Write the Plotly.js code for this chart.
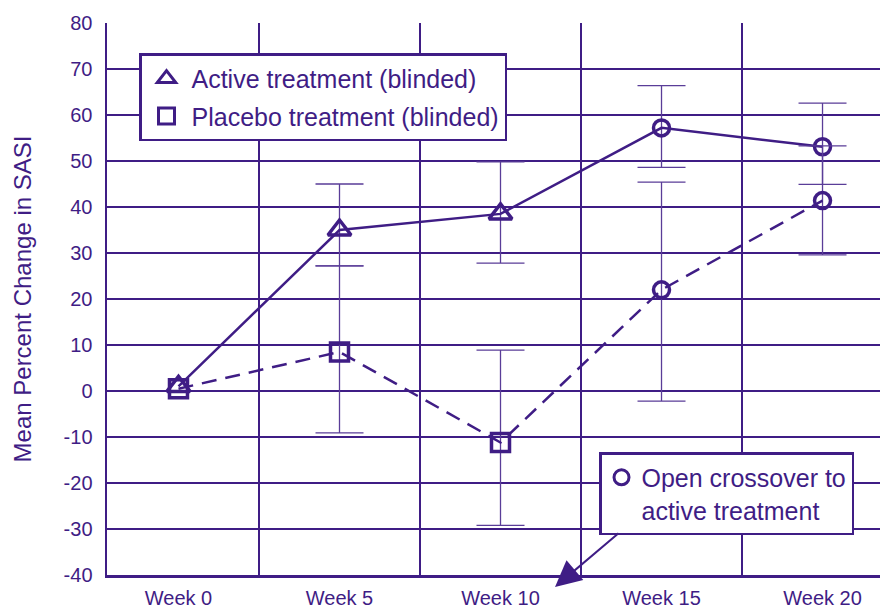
<!DOCTYPE html>
<html>
<head>
<meta charset="utf-8">
<script src="https://cdn.plot.ly/plotly-3.0.1.min.js"></script>
<style>html,body{margin:0;padding:0;overflow:hidden;background:#fff;}</style>
</head>
<body>
<div id="chart" style="width:880px;height:608px;"></div>
<script>
// ---- data ----
const weeks = ['Week 0', 'Week 5', 'Week 10', 'Week 15', 'Week 20'];

// solid line: active treatment (blinded) weeks 0-10, then open active weeks 15-20
const activeMean  = [1, 35, 38.5, 57.2, 53.1];
// Week 0 has no error bar (NaN = none)
const activePlus  = [NaN, 10, 11.3, 9.2, 9.5];
const activeMinus = [NaN, 7.8, 10.7, 8.6, 8.2];
const activeSymbols = ['triangle-up-open', 'triangle-up-open', 'triangle-up-open', 'circle-open', 'circle-open'];

// dashed line: placebo (blinded) weeks 0-10, then open crossover to active weeks 15-20
const placeboMean  = [0.5, 8.5, -11.2, 22, 41.4];
const placeboPlus  = [NaN, 18.7, 20.1, 23.4, 11.9];
const placeboMinus = [NaN, 17.6, 18, 24.2, 11.8];
const placeboSymbols = ['square-open', 'square-open', 'square-open', 'circle-open', 'circle-open'];

const legendNames = ['Active treatment (blinded)', 'Placebo treatment (blinded)', 'Open crossover to<br>active treatment'];
const yTitle = 'Mean Percent Change in SASI';
const yTickVals = [-40, -30, -20, -10, 0, 10, 20, 30, 40, 50, 60, 70, 80];
const yTickText = ['-40', '-30', '-20', '-10', '0', '10', '20', '30', '40', '50', '60', '70', '80'];

// ---- styling ----
const purple = '#3f1d85';
const errColor = '#5a3d98';
const font = 'Liberation Sans, Arial, Helvetica, sans-serif';

function sizesFor(symbols) {
  return symbols.map(s => s.startsWith('triangle') ? 20 : (s.startsWith('square') ? 18 : 16));
}

const traces = [
  {
    x: weeks, y: activeMean, type: 'scatter', mode: 'lines+markers', showlegend: false,
    line: {color: purple, width: 2.5},
    marker: {symbol: activeSymbols, size: sizesFor(activeSymbols), color: purple, opacity: 1,
             line: {color: purple, width: 3.5}},
    error_y: {type: 'data', symmetric: false, array: activePlus, arrayminus: activeMinus,
              color: errColor, thickness: 1.3, width: 24}
  },
  {
    x: weeks, y: placeboMean, type: 'scatter', mode: 'lines+markers', showlegend: false,
    line: {color: purple, width: 2.5, dash: '15px,9px'},
    marker: {symbol: placeboSymbols, size: sizesFor(placeboSymbols), color: purple, opacity: 1,
             line: {color: purple, width: 3.5}},
    error_y: {type: 'data', symmetric: false, array: placeboPlus, arrayminus: placeboMinus,
              color: errColor, thickness: 1.3, width: 24}
  },
  // legend entries (marker-only)
  {x: [null], y: [null], type: 'scatter', mode: 'markers', name: legendNames[0], legend: 'legend', legendgroup: 'a',
   marker: {symbol: 'triangle-up-open', size: 16, color: purple, line: {color: purple, width: 3}}},
  {x: [null], y: [null], type: 'scatter', mode: 'markers', name: legendNames[1], legend: 'legend', legendgroup: 'b',
   marker: {symbol: 'square-open', size: 16, color: purple, line: {color: purple, width: 3}}},
  {x: [null], y: [null], type: 'scatter', mode: 'markers', name: legendNames[2], legend: 'legend2',
   marker: {symbol: 'circle-open', size: 15, color: purple, line: {color: purple, width: 3}}}
];

const layout = {
  width: 880, height: 608,
  margin: {l: 107, r: 0, t: 23, b: 33},
  paper_bgcolor: '#fff', plot_bgcolor: '#fff',
  font: {family: font, color: purple, size: 20},
  xaxis: {
    type: 'category', range: [-0.444, 4.357], tickson: 'boundaries',
    showgrid: true, gridcolor: purple, gridwidth: 2.5,
    showline: true, linecolor: purple, linewidth: 2.5,
    ticks: '', ticklabelstandoff: 3, zeroline: false,
    tickfont: {size: 20, color: purple, family: font}
  },
  yaxis: {
    range: [-40, 80], tickmode: 'array', tickvals: yTickVals, ticktext: yTickText,
    showgrid: true, gridcolor: purple, gridwidth: 2.5,
    showline: true, linecolor: purple, linewidth: 2.5,
    zeroline: false, ticks: '', ticklabelstandoff: 8,
    tickfont: {size: 20, color: purple, family: font},
    title: {text: yTitle, font: {size: 24, color: purple, family: font}, standoff: 25}
  },
  legend: {
    x: 0.0414, y: 0.945, xanchor: 'left', yanchor: 'top',
    bgcolor: '#fff', bordercolor: purple, borderwidth: 2.5,
    font: {size: 25, color: purple, family: font},
    tracegroupgap: 2, itemwidth: 40, traceorder: 'grouped'
  },
  legend2: {
    x: 0.6365, y: 0.2227, xanchor: 'left', yanchor: 'top',
    bgcolor: '#fff', bordercolor: purple, borderwidth: 2.5, valign: 'top',
    font: {size: 25, color: purple, family: font}
  },
  annotations: [{
    xref: 'paper', yref: 'paper', x: 0.5796, y: -0.0217,
    ax: 65, ay: -55, text: '', showarrow: true,
    arrowhead: 2, arrowsize: 2.6, arrowwidth: 2, arrowcolor: purple
  }],
  showlegend: true
};

Plotly.newPlot('chart', traces, layout, {displayModeBar: false, staticPlot: true});
</script>
</body>
</html>
